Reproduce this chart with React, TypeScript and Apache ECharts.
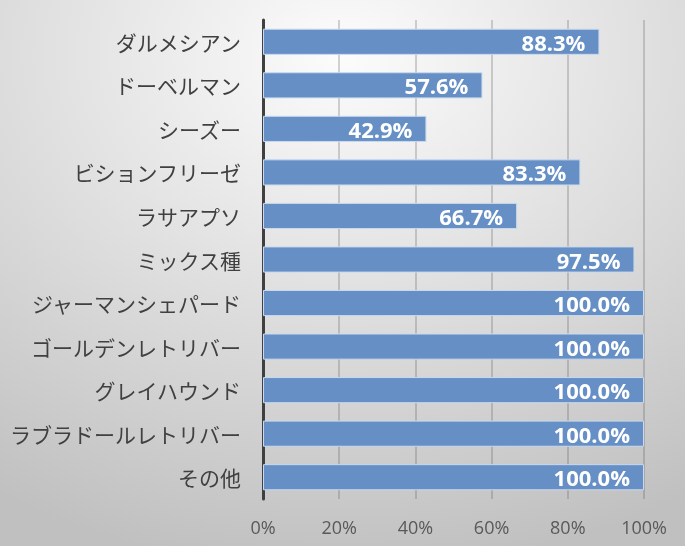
import React, { useEffect, useRef } from "react";
import * as echarts from "echarts";

const categories = [
  "ダルメシアン",
  "ドーベルマン",
  "シーズー",
  "ビションフリーゼ",
  "ラサアプソ",
  "ミックス種",
  "ジャーマンシェパード",
  "ゴールデンレトリバー",
  "グレイハウンド",
  "ラブラドールレトリバー",
  "その他",
];
const values = [88.3, 57.6, 42.9, 83.3, 66.7, 97.5, 100, 100, 100, 100, 100];
const xTicks = { min: 0, max: 100, interval: 20 };

export default function App() {
  const ref = useRef<HTMLDivElement>(null);
  useEffect(() => {
    document.body.style.margin = "0";
    const chart = echarts.init(ref.current!, null, { renderer: "svg" });
    chart.setOption({
      animation: false,
      backgroundColor: {
        type: "radial",
        x: 0.5,
        y: 0.1,
        r: 0.95,
        colorStops: [
          { offset: 0, color: "#fcfcfc" },
          { offset: 1, color: "#c0c0c0" },
        ],
      },
      grid: { left: 263, right: 41, top: 20, bottom: 47 },
      xAxis: {
        type: "value",
        min: xTicks.min,
        max: xTicks.max,
        interval: xTicks.interval,
        axisLine: { show: false },
        axisTick: { show: false },
        splitLine: { lineStyle: { color: "rgba(90,90,90,0.35)", width: 1.5 } },
        axisLabel: {
          formatter: "{value}%",
          color: "#595959",
          fontSize: 18,
          fontFamily: "Open Sans",
          margin: 19,
        },
      },
      yAxis: {
        type: "category",
        data: categories,
        inverse: true,
        axisLine: { lineStyle: { color: "#404040", width: 3 } },
        axisTick: { show: false },
        axisLabel: {
          color: "#404040",
          fontSize: 21,
          fontFamily: "Noto Sans CJK JP",
          margin: 22,
        },
      },
      series: [
        {
          type: "bar",
          data: values,
          barCategoryGap: "40%",
          itemStyle: {
            color: "#658fc5",
            borderColor: "#c9d9ee",
            borderWidth: 1,
          },
          label: {
            show: true,
            position: "insideRight",
            distance: 14,
            formatter: (p: any) => p.value.toFixed(1) + "%",
            color: "#ffffff",
            fontWeight: "bold",
            fontSize: 22,
            fontFamily: "Open Sans",
          },
        },
      ],
    });
    return () => chart.dispose();
  }, []);
  return (
    <div
      ref={ref}
      style={{ position: "fixed", left: 0, top: 0, width: 685, height: 546 }}
    />
  );
}
